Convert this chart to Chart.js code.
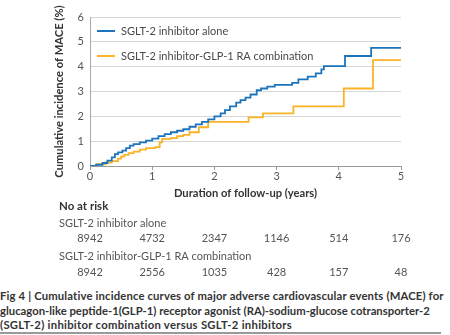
<!DOCTYPE html>
<html>
<head>
<meta charset="utf-8">
<script src="https://cdn.jsdelivr.net/npm/chart.js@4"></script>
<style>
  html, body { margin: 0; padding: 0; background: #fff; }
  body { width: 450px; height: 335px; position: relative; overflow: hidden; font-family: Lato, "Open Sans", sans-serif; }
  #wrap { position: absolute; left: 0; top: 0; width: 450px; height: 285px; }
  #caption { position: absolute; left: 0; top: 289px; font-weight: bold; font-size: 11.3px; line-height: 14.6px; color: #333; white-space: nowrap; }
  #caption span { display: block; }
  #caption .l1 { letter-spacing: 0.15px; }
  #caption .l3 { letter-spacing: 0.28px; }
  #rule { position: absolute; left: 0; top: 332px; width: 441px; height: 2px; background: #9a9a9a; }
</style>
</head>
<body>
<div id="wrap"><canvas id="c" width="450" height="285"></canvas></div>
<div id="caption"><span class="l1">Fig 4 | Cumulative incidence curves of major adverse cardiovascular events (MACE) for</span><span class="l2">glucagon-like peptide-1(GLP-1) receptor agonist (RA)-sodium-glucose cotransporter-2</span><span class="l3">(SGLT-2) inhibitor combination versus SGLT-2 inhibitors</span></div>
<div id="rule"></div>
<script>
// ---- data ----
const seriesNames = ['SGLT-2 inhibitor alone', 'SGLT-2 inhibitor-GLP-1 RA combination'];
const xTicks = [0, 1, 2, 3, 4, 5];
const yTicks = [0, 1, 2, 3, 4, 5, 6];
const aloneTimes  = [0, 0.1, 0.2, 0.28, 0.35, 0.4, 0.45, 0.52, 0.58, 0.64, 0.7, 0.8, 0.9, 1.0, 1.1, 1.2, 1.3, 1.4, 1.5, 1.6, 1.7, 1.8, 1.9, 2.0, 2.1, 2.17, 2.25, 2.35, 2.42, 2.5, 2.58, 2.68, 2.75, 2.85, 2.97, 3.25, 3.35, 3.5, 3.63, 3.72, 3.76, 4.1, 4.52, 5.0];
const aloneValues = [0, 0.05, 0.12, 0.22, 0.35, 0.48, 0.55, 0.62, 0.72, 0.82, 0.88, 0.95, 1.02, 1.1, 1.2, 1.28, 1.36, 1.42, 1.48, 1.58, 1.68, 1.78, 1.88, 2.0, 2.12, 2.25, 2.4, 2.55, 2.65, 2.75, 2.88, 3.05, 3.12, 3.2, 3.27, 3.35, 3.49, 3.6, 3.73, 3.89, 4.02, 4.43, 4.76, 4.76];
const comboTimes  = [0, 0.1, 0.25, 0.35, 0.45, 0.5, 0.55, 0.62, 0.7, 0.8, 0.9, 1.05, 1.12, 1.16, 1.3, 1.4, 1.5, 1.6, 1.75, 1.9, 2.55, 2.78, 3.27, 4.08, 4.55, 5.0];
const comboValues = [0, 0.07, 0.14, 0.2, 0.3, 0.38, 0.45, 0.52, 0.58, 0.66, 0.72, 0.76, 0.95, 1.09, 1.12, 1.2, 1.25, 1.36, 1.56, 1.78, 1.96, 2.12, 2.4, 3.12, 4.26, 4.26];
const riskAlone = [8942, 4732, 2347, 1146, 514, 176];
const riskCombo = [8942, 2556, 1035, 428, 157, 48];
const riskHeader = 'No at risk';
const xTitle = 'Duration of follow-up (years)';
const yTitle = 'Cumulative incidence of MACE (%)';

const BLUE = '#1c74bc';
const ORANGE = '#fab325';
const FONT = 'Lato';

function toPoints(ts, vs) { return ts.map((t, i) => ({ x: t, y: vs[i] })); }

const legendPlugin = {
  id: 'insideLegend',
  afterDatasetsDraw(chart) {
    const { ctx, chartArea } = chart;
    ctx.save();
    ctx.font = '11px ' + FONT;
    ctx.textBaseline = 'middle';
    chart.data.datasets.forEach((ds, i) => {
      const y = chartArea.top + 14 + i * 25;
      const x0 = chartArea.left + 7;
      ctx.strokeStyle = ds.borderColor;
      ctx.lineWidth = 2;
      ctx.beginPath(); ctx.moveTo(x0, y); ctx.lineTo(x0 + 18, y); ctx.stroke();
      ctx.fillStyle = '#4a4a4a';
      ctx.fillText(ds.label, x0 + 24, y);
    });
    ctx.restore();
  }
};

const riskPlugin = {
  id: 'riskTable',
  afterDraw(chart) {
    const { ctx } = chart;
    const xs = chart.scales.x;
    ctx.save();
    ctx.textBaseline = 'middle';
    ctx.textAlign = 'left';
    ctx.fillStyle = '#333';
    ctx.font = 'bold 11.5px ' + FONT;
    ctx.fillText(riskHeader, 59, 206);
    ctx.font = '11px ' + FONT;
    ctx.fillStyle = '#555';
    ctx.fillText(seriesNames[0], 59, 223);
    ctx.fillText(seriesNames[1], 59, 256);
    ctx.textAlign = 'center';
    xTicks.forEach((t, i) => {
      const px = xs.getPixelForValue(t);
      ctx.fillText(String(riskAlone[i]), px, 238.5);
      ctx.fillText(String(riskCombo[i]), px, 272);
    });
    ctx.restore();
  }
};

new Chart(document.getElementById('c'), {
  type: 'line',
  data: {
    datasets: [
      { label: seriesNames[0], data: toPoints(aloneTimes, aloneValues), borderColor: BLUE, backgroundColor: BLUE, borderWidth: 1.8, pointRadius: 0, stepped: true, fill: false },
      { label: seriesNames[1], data: toPoints(comboTimes, comboValues), borderColor: ORANGE, backgroundColor: ORANGE, borderWidth: 1.8, pointRadius: 0, stepped: true, fill: false }
    ]
  },
  options: {
    responsive: false,
    animation: false,
    events: [],
    layout: { padding: { left: 45, right: 49, top: 17, bottom: 79 } },
    plugins: { legend: { display: false }, tooltip: { enabled: false } },
    scales: {
      x: {
        type: 'linear', min: 0, max: 5,
        afterBuildTicks(s) { s.ticks = xTicks.map(v => ({ value: v })); },
        afterFit(s) { s.height = 40; },
        ticks: { color: '#555', font: { family: FONT, size: 11 }, padding: 0, maxRotation: 0 },
        grid: { drawOnChartArea: false, drawTicks: true, tickLength: 4, tickColor: '#999', color: '#999' },
        border: { display: true, color: '#999', width: 1 },
        title: { display: true, text: xTitle, color: '#333', font: { family: FONT, size: 11.2, weight: 'bold' }, padding: { top: 0, bottom: 6 } }
      },
      y: {
        type: 'linear', min: 0, max: 6,
        afterBuildTicks(s) { s.ticks = yTicks.map(v => ({ value: v })); },
        afterFit(s) { s.width = 45; },
        ticks: { color: '#555', font: { family: FONT, size: 11 }, padding: 6 },
        grid: { color: '#d6d6d6', lineWidth: 1, drawTicks: false },
        border: { display: true, color: '#aaa', width: 1 },
        title: { display: true, text: yTitle, color: '#333', font: { family: FONT, size: 11.2, weight: 'bold' }, padding: { top: 8, bottom: 0 } }
      }
    }
  },
  plugins: [legendPlugin, riskPlugin]
});
</script>
</body>
</html>
